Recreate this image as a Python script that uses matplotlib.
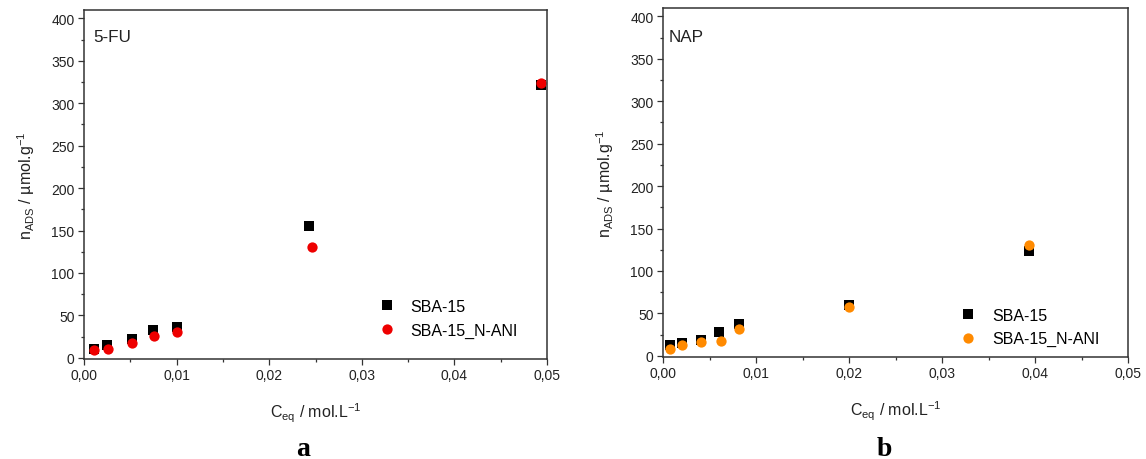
import matplotlib
matplotlib.use("Agg")
import matplotlib.pyplot as plt
from matplotlib.ticker import MultipleLocator, FuncFormatter

plt.rcParams['font.family'] = ['Liberation Sans', 'DejaVu Sans']

# Panel a: 5-FU
fu_x_sba = [0.00105, 0.00253, 0.00515, 0.00748, 0.01002, 0.0243, 0.0494]
fu_y_sba = [10, 15.5, 21.5, 33, 36, 155.5, 321]
fu_x_ani = [0.00105, 0.00255, 0.00518, 0.00752, 0.01004, 0.0246, 0.0494]
fu_y_ani = [9, 10.5, 17.5, 26, 30.5, 130, 324]

# Panel b: NAP
nap_x_sba = [0.00078, 0.00204, 0.00405, 0.00602, 0.00813, 0.0200, 0.0394]
nap_y_sba = [12.5, 15.5, 18.5, 27.5, 37, 60, 124]
nap_x_ani = [0.00078, 0.00204, 0.00405, 0.0062, 0.0082, 0.0200, 0.0394]
nap_y_ani = [7.5, 13, 16, 17.5, 31, 57, 130.5]

series_labels = ['SBA-15', 'SBA-15_N-ANI']
panel_names = ['5-FU', 'NAP']
panel_letters = ['a', 'b']
x_ticks = [0.0, 0.01, 0.02, 0.03, 0.04, 0.05]
y_ticks = [0, 50, 100, 150, 200, 250, 300, 350, 400]

W, H = 1146, 460
fig = plt.figure(figsize=(W / 100, H / 100), dpi=100)

def px_axes(left, top, right, bottom):
    return fig.add_axes([left / W, 1 - bottom / H, (right - left) / W, (bottom - top) / H])

ax_a = px_axes(84, 11, 547, 360)
ax_b = px_axes(663, 9, 1128, 358)

spine_col = '#333333'
txt_col = '#222222'
panels = [
    (ax_a, fu_x_sba, fu_y_sba, fu_x_ani, fu_y_ani, '#ee0000', (0.6365, 0.117), (0.019, 0.923), 303),
    (ax_b, nap_x_sba, nap_y_sba, nap_x_ani, nap_y_ani, '#ff8a00', (0.639, 0.086), (0.012, 0.919), 884),
]

for i, (ax, xs, ys, xa, ya, col, leg_pos, name_pos, letter_x) in enumerate(panels):
    ax.plot(xs, ys, linestyle='none', marker='s', markersize=6.6, color='black',
            markeredgewidth=0, label=series_labels[0], clip_on=True)
    ax.plot(xa, ya, linestyle='none', marker='o', markersize=7.4, color=col,
            markeredgewidth=0, label=series_labels[1], clip_on=True)
    ax.set_xlim(0, 0.05)
    ax.set_ylim(-1.5, 410)
    ax.set_xticks(x_ticks)
    ax.set_yticks(y_ticks)
    ax.xaxis.set_major_formatter(FuncFormatter(lambda v, p: ('%.2f' % v).replace('.', ',')))
    ax.xaxis.set_minor_locator(MultipleLocator(0.005))
    ax.yaxis.set_minor_locator(MultipleLocator(25))
    for s in ax.spines.values():
        s.set_color(spine_col)
        s.set_linewidth(1.1)
    ax.tick_params(which='major', direction='out', length=4.3, width=0.9, color=spine_col,
                   labelsize=10, labelcolor=txt_col, pad=2.5, top=False, right=False)
    ax.tick_params(which='minor', direction='out', length=2.2, width=0.9, color=spine_col,
                   top=False, right=False)
    ax.set_xlabel(r'C$_\mathregular{eq}$ / mol.L$^\mathregular{-1}$', fontsize=11.5,
                  color=txt_col, labelpad=13)
    ax.set_ylabel(r'n$_\mathregular{ADS}$ / µmol.g$^\mathregular{-1}$', fontsize=11.5,
                  color=txt_col, labelpad=10)
    ax.text(name_pos[0], name_pos[1], panel_names[i], transform=ax.transAxes,
            fontsize=12.3, color=txt_col, ha='left', va='center')
    ax.legend(loc='center left', bbox_to_anchor=leg_pos, frameon=False, fontsize=11.5,
              borderpad=0, borderaxespad=0, handlelength=1.0, handletextpad=1.0,
              labelspacing=0.55, markerscale=1.0)
    fig.text(letter_x / W, 1 - 456 / H, panel_letters[i], fontsize=20,
             fontweight='bold', family='Liberation Serif', ha='center', va='baseline',
             color='black')

fig.savefig('out.png', dpi=100)
